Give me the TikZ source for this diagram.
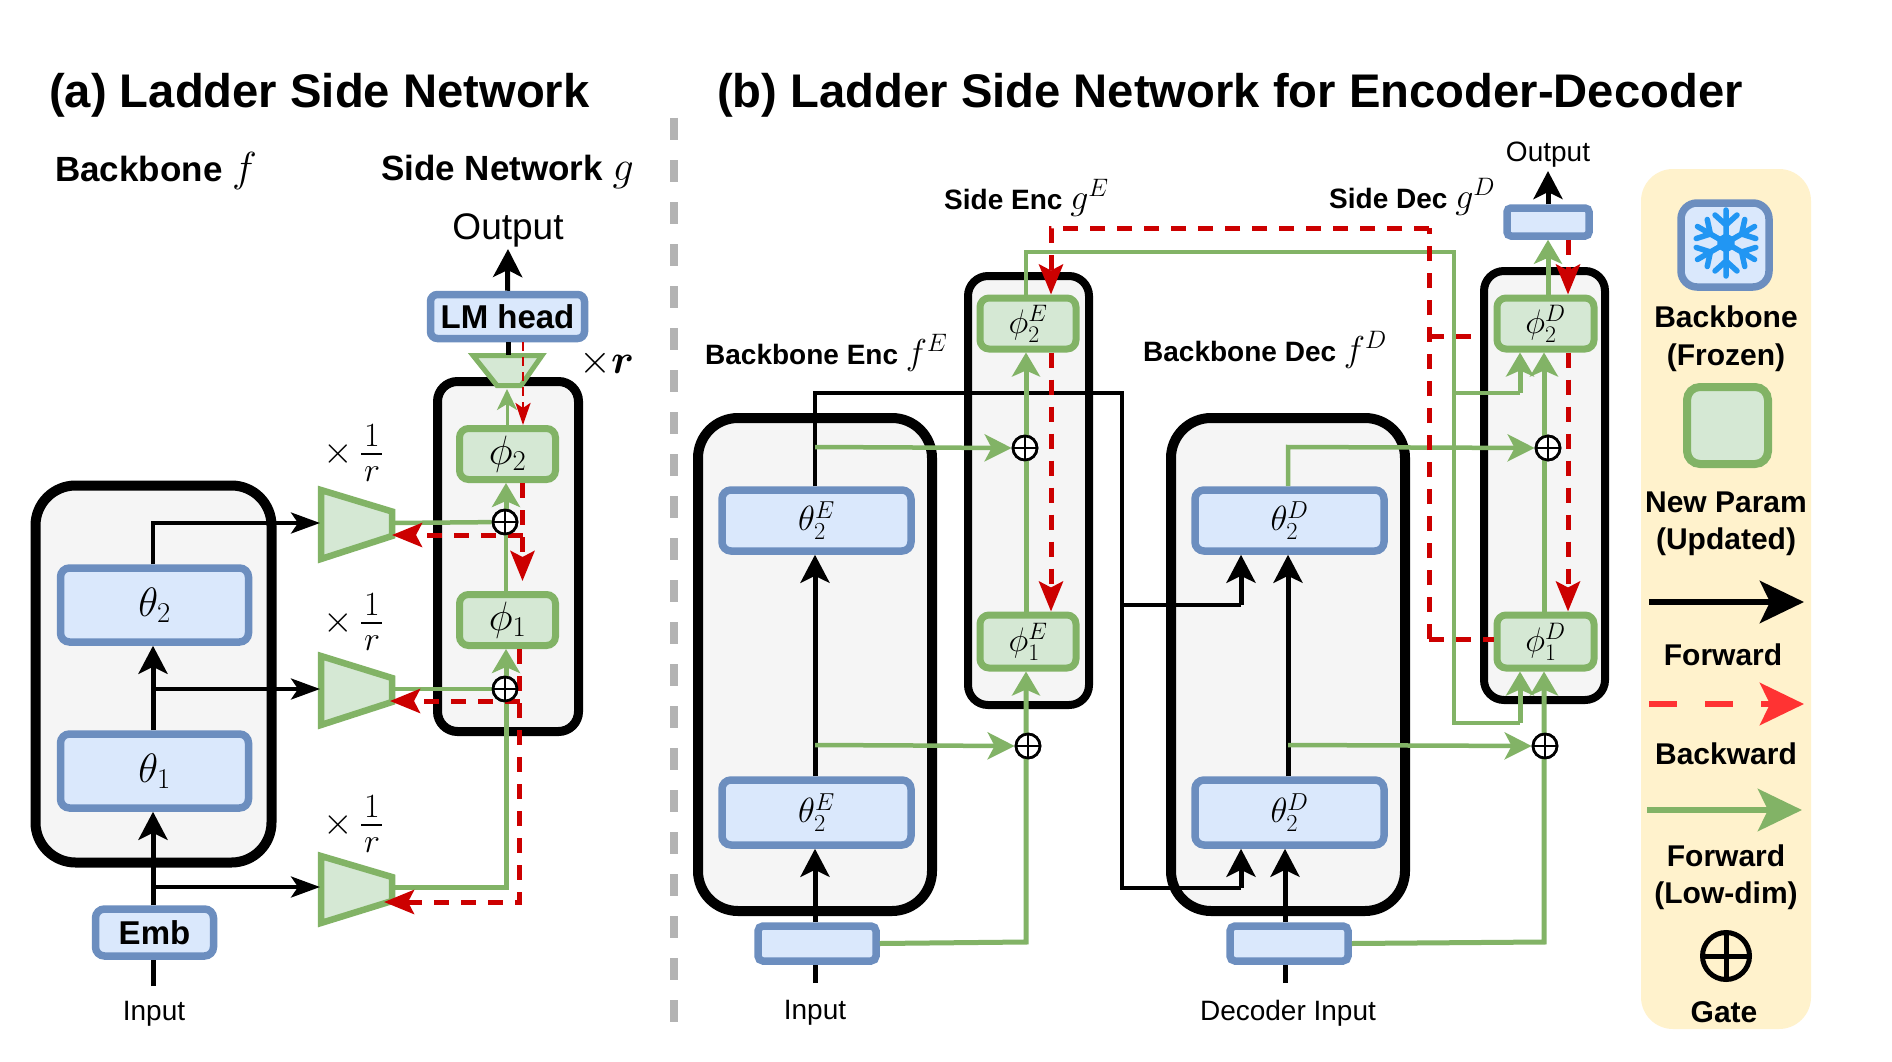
\RequirePackage{fix-cm}
\documentclass[tikz,border=0pt]{standalone}
\usepackage{amsmath}
\usepackage[no-math]{fontspec}
\setmainfont{Liberation Sans}
\usetikzlibrary{arrows.meta,positioning}
\definecolor{bluel}{HTML}{6C8EBF}
\definecolor{blueb}{HTML}{DAE8FC}
\definecolor{greenl}{HTML}{82B366}
\definecolor{greenb}{HTML}{D5E8D4}
\definecolor{grayb}{HTML}{F5F5F5}
\definecolor{redl}{HTML}{CC0000}
\definecolor{legb}{HTML}{FFF2CC}
\definecolor{legr}{HTML}{FF3333}
\definecolor{sepc}{HTML}{B3B3B3}
\definecolor{flake}{HTML}{2196F3}
\newcommand\fsz[1]{\fontsize{#1}{#1}\selectfont}
\tikzset{
  boxbase/.style={rectangle,inner sep=0pt,outer sep=auto,rounded corners=#1},
  frozen/.style={boxbase=9pt,draw=bluel,fill=blueb,line width=7.5pt,font=\fsz{35}},
  updated/.style={boxbase=9pt,draw=greenl,fill=greenb,line width=7pt,font=\fsz{34}},
  hold/.style={boxbase=#1,draw=black,fill=grayb,line width=10pt},
  hold/.default=40pt,
  holdsm/.style={boxbase=20pt,draw=black,fill=grayb,line width=8pt},
  gate/.style={circle,draw=black,fill=white,line width=2.7pt,minimum size=24pt,inner sep=0pt,
    path picture={\draw[black,line width=2.2pt]
      (path picture bounding box.north)--(path picture bounding box.south)
      (path picture bounding box.west)--(path picture bounding box.east);}},
  bold/.style={font=\bfseries\fsz{#1},inner sep=0pt},
  plain/.style={font=\fsz{#1},inner sep=0pt},
  blk/.style={draw=black,line width=5pt,-{Stealth[length=28pt,width=29pt,inset=7pt]}},
  blkthin/.style={draw=black,line width=3.8pt,-{Stealth[length=29pt,width=21pt,inset=7pt]}},
  grn/.style={draw=greenl,line width=5pt,-{Stealth[length=24pt,width=28pt,inset=6pt]}},
  grnthin/.style={draw=greenl,line width=4.5pt,-{Stealth[length=27pt,width=27pt,inset=7pt]}},
  grnline/.style={draw=greenl,line width=4.5pt},
  redd/.style={draw=redl,line width=5pt,dash pattern=on 15pt off 12pt,-{Stealth[length=30pt,width=24pt,inset=6pt]}},
  reddthin/.style={draw=redl,line width=2.8pt,dash pattern=on 9pt off 6pt,-{Stealth[length=22pt,width=15pt,inset=5pt]}},
  reddnt/.style={draw=redl,line width=5pt,dash pattern=on 15pt off 12pt},
  tri/.style={draw=greenl,fill=greenb,line width=6.5pt,line join=miter},
  fracbar/.style={draw=black,line width=2.7pt},
}
\begin{document}
\begin{tikzpicture}[x=1pt,y=-1pt]
\useasboundingbox (0,0) rectangle (1892,1062);
\fill[white] (0,0) rectangle (1892,1062);

% titles
\node[bold=47.2,anchor=west] (ta) at (49,95) {(a) Ladder Side Network};
\node[bold=47.2,anchor=west] (tb) at (717,95) {(b) Ladder Side Network for Encoder-Decoder};
\node[bold=35,anchor=west] (bbf) at (55,171) {Backbone {\fsz{42}$f$}};
\node[bold=35,anchor=west] (sng) at (381,172) {Side Network {\fsz{42}$g$}};

% separator
\coordinate (sept) at (674,118);
\coordinate (sepb) at (674,1025);
\draw[sepc,line width=7.5pt,dash pattern=on 22pt off 20pt] (sept)--(sepb);

%%%%% panel a %%%%%
\node[hold] (bba) at (153.5,674) [minimum width=236pt,minimum height=377pt] {};
\node[holdsm,line width=9pt] (sna) at (508,556.5) [minimum width=141pt,minimum height=350pt] {};

% shrink trapezoids
\draw[tri] (321,490)--(392,511.5)--(392,536)--(321,559)--cycle;
\draw[tri] (321,656)--(392,678)--(392,702)--(321,725)--cycle;
\draw[tri] (321,856)--(392,877)--(392,901)--(321,923)--cycle;
\coordinate (t1l) at (320,523);
\coordinate (t2l) at (320,689);
\coordinate (t3l) at (320,887);
\coordinate (t1r) at (394,523);
\coordinate (t2r) at (394,689);
\coordinate (t3r) at (394,887);
\coordinate (t1b) at (392,535);
\coordinate (t2b) at (390,701);
\coordinate (t3b) at (384,902);

\node[frozen,font=\fsz{41},minimum width=188pt,minimum height=74pt] (th2) at (154.5,605) {$\theta_2$};
\node[frozen,font=\fsz{41},minimum width=188pt,minimum height=74pt] (th1) at (154.5,771) {$\theta_1$};
\node[frozen,font=\bfseries\fsz{33},minimum width=118pt,minimum height=47pt] (emb) at (154.5,932.5) {Emb};
\node[plain=28] (inA) at (154,1014) {Input};
\coordinate (inAs) at (153,986);
\coordinate (t1corner) at (153,523);
\coordinate (t2j) at (153,689);
\coordinate (t3j) at (153,887);
\coordinate (gv3) at (506,887);

\node[updated,font=\fsz{41},minimum width=96pt,minimum height=51pt] (ph2) at (507.5,454) {$\phi_2$};
\node[updated,font=\fsz{41},minimum width=96pt,minimum height=51pt] (ph1) at (507.5,620) {$\phi_1$};
\node[gate] (g2a) at (505,522) {};
\node[gate] (g1a) at (505,689) {};

% black
\draw[draw=black,line width=5pt] (inAs)--(emb.south-|inAs);
\draw[blk] (emb.north-|t3j)--(th1.south-|t3j);
\draw[blk] (th1.north-|t3j)--(th2.south-|t3j);
\draw[blkthin] (th2.north-|t1corner)--(t1corner)--(t1l);
\draw[blkthin] (t2j)--(t2l);
\draw[blkthin] (t3j)--(t3l);

% green
\draw[grnline] (t1r)--(g2a);
\draw[grnline] (t2r)--(g1a);
\draw[grn] (t3r)--(gv3)--(gv3|-ph1.south);
\draw[grn] (g2a.north-|gv3)--(gv3|-ph2.south);
\draw[grnline] (gv3|-ph1.north)--(g2a.south-|gv3);

% red
\coordinate (r1) at (522.5,535);
\coordinate (r2) at (519.5,701);
\coordinate (r3) at (519.5,902);
\draw[redd] (r1|-ph2.south)--(522.5,581);
\draw[redd] (r1)--(t1b);
\draw[redd] (r2|-ph1.south)--(r3)--(t3b);
\draw[redd] (r2)--(t2b);

% gates on top
\node[gate] at (g2a) {};
\node[gate] at (g1a) {};

% expanding trapezoid
\draw[tri,line width=5pt] (473,355.5)--(542,355.5)--(521,385.5)--(497,385.5)--cycle;
\coordinate (tup) at (508,355);
\coordinate (tdn) at (507,389);
\draw[greenl,line width=3pt,-{Stealth[length=21pt,width=20pt,inset=6pt]}] (tdn|-ph2.north)--(tdn);

\node[frozen,font=\bfseries\fsz{33},rounded corners=7pt,minimum width=154pt,minimum height=44pt] (lm) at (507.5,316.5) {LM head};
\draw[black,line width=5pt] (lm.south-|tup)--(tup);
\coordinate (rthin) at (523,342);
\draw[reddthin] (lm.south-|rthin)--(ph2.north-|rthin);
\node[plain=37] (outA) at (508,230) {Output};
\draw[blk] (lm.north)--(508,249);

% scale labels
\foreach \nm/\yy in {a/454,b/623,c/825}{
  \node[plain=38] (x\nm) at (338,\yy) {$\times$};
  \node[plain=34] (one\nm) at (372,\yy-18) {$1$};
  \node[plain=34] (den\nm) at (372,\yy+20) {$r$};
  \coordinate (bl\nm) at (361,\yy);
  \coordinate (br\nm) at (382,\yy);
  \draw[fracbar] (bl\nm)--(br\nm);
}
\node[plain=41,anchor=west] (xr) at (579,363) {$\times\boldsymbol{r}$};

%%%%% panel b %%%%%
\node[bold=28,anchor=west] (lse) at (944,198) {Side Enc {\fsz{36}$g^{E}$}};
\node[bold=28,anchor=west] (lsd) at (1329,197) {Side Dec {\fsz{36}$g^{D}$}};
\node[bold=28,anchor=west] (lbe) at (705,353) {Backbone Enc {\fsz{36}$f^{E}$}};
\node[bold=28,anchor=west] (lbd) at (1143,350) {Backbone Dec {\fsz{36}$f^{D}$}};

\node[holdsm] (se) at (1028.5,490.5) [minimum width=121pt,minimum height=429pt] {};
\node[hold] (be) at (815,664.5) [minimum width=234pt,minimum height=493pt] {};
\node[hold] (bd) at (1288,664.5) [minimum width=234pt,minimum height=493pt] {};
\node[holdsm] (sd) at (1544.5,485.5) [minimum width=121pt,minimum height=429pt] {};

\node[frozen,minimum width=189pt,minimum height=61pt] (te2) at (816.5,520.5) {$\theta_2^{E}$};
\node[frozen,minimum width=189pt,minimum height=65pt] (te1) at (816.5,812.5) {$\theta_2^{E}$};
\node[frozen,minimum width=189pt,minimum height=61pt] (td2) at (1289.5,520.5) {$\theta_2^{D}$};
\node[frozen,minimum width=189pt,minimum height=65pt] (td1) at (1289.5,812.5) {$\theta_2^{D}$};
\node[frozen,rounded corners=5pt,minimum width=118pt,minimum height=35pt] (ie) at (817,943.5) {};
\node[frozen,rounded corners=5pt,minimum width=118pt,minimum height=35pt] (id) at (1289,943.5) {};
\node[frozen,rounded corners=4pt,minimum width=82pt,minimum height=28pt] (ob) at (1548,222) {};

\node[updated,minimum width=96pt,minimum height=51pt] (pe2) at (1028,323.5) {$\phi_2^{E}$};
\node[updated,minimum width=96pt,minimum height=53pt] (pe1) at (1028,641.5) {$\phi_1^{E}$};
\node[updated,minimum width=97pt,minimum height=51pt] (pd2) at (1545.5,323.5) {$\phi_2^{D}$};
\node[updated,minimum width=97pt,minimum height=53pt] (pd1) at (1545.5,641.5) {$\phi_1^{D}$};

\node[plain=28] (inE) at (815,1013) {Input};
\node[plain=28] (inD) at (1288,1013) {Decoder Input};
\node[plain=28] (outB) at (1548,155) {Output};

\coordinate (xe) at (815,0);
\coordinate (xd) at (1288,0);
\coordinate (xdl) at (1285,0);
\coordinate (xg) at (1026,0);
\coordinate (xs) at (1544,0);
\coordinate (xq) at (1568,0);

% black
\draw[black,line width=5pt] (815,983)--(ie.south-|xe);
\draw[black,line width=5pt] (1285,983)--(id.south-|xdl);
\draw[blk] (ie.north-|xe)--(te1.south-|xe);
\draw[blk] (te1.north-|xe)--(te2.south-|xe);
\draw[blk] (id.north-|xdl)--(td1.south-|xdl);
\draw[blk] (td1.north-|xd)--(td2.south-|xd);
\coordinate (bk1) at (815,393);
\coordinate (bk2) at (1122,393);
\coordinate (bk3) at (1122,888);
\coordinate (bk4) at (1241,888);
\coordinate (bk5) at (1122,605);
\coordinate (bk6) at (1241,605);
\draw[draw=black,line width=4pt] (te2.north-|xe)--(bk1)--(bk2)--(bk3)--(bk4);
\draw[draw=black,line width=4pt] (bk5)--(bk6);
\draw[blk] (bk4)--(td1.south-|bk4);
\draw[blk] (bk6)--(td2.south-|bk6);

% gates b
\node[gate] (ge2) at (1025,448) {};
\node[gate] (ge1) at (1028,746) {};
\node[gate] (gd2) at (1548,448) {};
\node[gate] (gd1) at (1545,746) {};

% green b
\draw[grnthin] (815,447)--(ge2.west);
\draw[grnthin] (815,745)--(ge1.west);
\draw[grnthin] (1288,486)--(1288,447)--(gd2.west);
\draw[grnthin] (1288,745)--(gd1.west);

\draw[grn] (ie.east)--(1026,942)--(pe1.south-|xg);
\draw[grn] (pe1.north-|xg)--(pe2.south-|xg);
\draw[grn] (id.east)--(1544,942)--(pd1.south-|xs);
\draw[grn] (pd1.north-|xs)--(pd2.south-|xs);
\draw[grn] (pd2.north-|ob)--(ob.south);

\coordinate (gr1) at (1026,252);
\coordinate (gr2) at (1454,252);
\coordinate (gr3) at (1454,723);
\coordinate (gr4) at (1520,723);
\coordinate (gr5) at (1454,393);
\coordinate (gr6) at (1520,393);
\draw[grnline] (pe2.north-|gr1)--(gr1)--(gr2)--(gr3)--(gr4);
\draw[grnline] (gr5)--(gr6);
\draw[grn] (gr4)--(pd1.south-|gr4);
\draw[grn] (gr6)--(pd2.south-|gr6);

\node[gate] at (ge2) {};
\node[gate] at (ge1) {};
\node[gate] at (gd2) {};
\node[gate] at (gd1) {};

% red b
\coordinate (rd1) at (1429,228);
\coordinate (rd2) at (1051,228);
\coordinate (rd3) at (1429,639);
\coordinate (rd4) at (1429,336);
\coordinate (rd5) at (1477,336);
\draw[reddnt] (rd3)--(rd1);
\draw[redd] (rd1)--(rd2)--(pe2.north-|rd2);
\draw[redd] (pe2.south-|rd2)--(pe1.north-|rd2);
\draw[reddnt] (rd3)--(pd1.west|-rd3);
\draw[reddnt] (rd4)--(rd5);
\draw[redd] (ob.south-|xq)--(pd2.north-|xq);
\draw[redd] (pd2.south-|xq)--(pd1.north-|xq);
\draw[blk] (ob.north)--(1548,171);

%%%%% legend %%%%%
\fill[legb,rounded corners=32pt] (1641,169) rectangle (1811,1029);
\node[frozen,line width=7.5pt,rounded corners=16pt,minimum width=88pt,minimum height=84pt] (lgf) at (1725,245) {};
\begin{scope}[shift={(1726,243)},flake,line width=5.5pt,line cap=round]
\foreach \a in {30,90,150,210,270,330} {
  \draw[rotate=\a] (0,0)--(33,0) (18,0)--(28,11) (18,0)--(28,-11);
}
\fill (30:10)--(90:10)--(150:10)--(210:10)--(270:10)--(330:10)--cycle;
\end{scope}
\node[bold=30,align=center,font=\bfseries\fontsize{30}{38}\selectfont] (lg1) at (1726,339) {Backbone\\(Frozen)};
\node[updated,line width=8pt,rounded corners=13pt,minimum width=81pt,minimum height=77pt] (lgu) at (1727.5,425.5) {};
\node[bold=30,align=center,font=\bfseries\fontsize{30}{37}\selectfont] (lg2) at (1726,523.5) {New Param\\(Updated)};
\coordinate (la1) at (1649,602);
\coordinate (la2) at (1804,602);
\coordinate (lb1) at (1649,704);
\coordinate (lb2) at (1804,704);
\coordinate (lc1) at (1647,810);
\coordinate (lc2) at (1802,810);
\draw[black,line width=6.5pt,-{Stealth[length=44pt,width=42pt,inset=10pt]}] (la1)--(la2);
\draw[legr,line width=6.5pt,dash pattern=on 28pt off 28pt,-{Stealth[length=44pt,width=42pt,inset=10pt]}] (lb1)--(lb2);
\draw[greenl,line width=6.5pt,-{Stealth[length=44pt,width=42pt,inset=10pt]}] (lc1)--(lc2);
\node[bold=30] (lg3) at (1723,655) {Forward};
\node[bold=30] (lg4) at (1726,754) {Backward};
\node[bold=30,align=center,font=\bfseries\fontsize{30}{37}\selectfont] (lg5) at (1726,877.5) {Forward\\(Low-dim)};
\node[gate,line width=5pt,minimum size=47pt,fill=none,
  path picture={\draw[black,line width=5pt]
      (path picture bounding box.north)--(path picture bounding box.south)
      (path picture bounding box.west)--(path picture bounding box.east);}] (lgg) at (1726,956) {};
\node[bold=30] (lg6) at (1724,1012) {Gate};
\end{tikzpicture}
\end{document}
